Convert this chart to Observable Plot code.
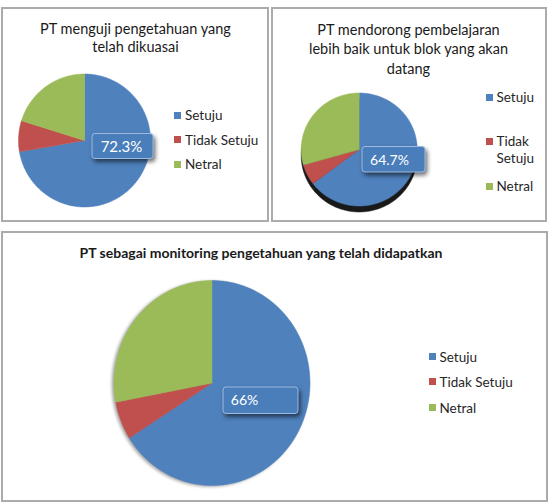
<!DOCTYPE html>
<html><head><meta charset="utf-8">
<script src="https://cdn.jsdelivr.net/npm/d3@7"></script>
<script src="https://cdn.jsdelivr.net/npm/@observablehq/plot@0.6"></script>
<style>
body{margin:0;background:#fff;}
#page{position:relative;width:550px;height:503px;overflow:hidden;font-family:Lato,"Open Sans",sans-serif;}
.box{position:absolute;box-sizing:border-box;border:2px solid #ababab;}
.title{position:absolute;text-align:center;white-space:pre-line;color:#1a1a1a;}
.leg{position:absolute;font-size:13.5px;color:#262626;display:flex;align-items:flex-start;}
.sw{width:7px;height:7px;margin-right:4px;flex:none;}
.plot{position:absolute;}
</style></head><body><div id="page"></div>
<script>
const categories = ["Setuju", "Tidak Setuju", "Netral"];
const colors = ["#4F81BD", "#C0504D", "#9BBB59"];
const titles = [
  "PT menguji pengetahuan yang\ntelah dikuasai",
  "PT mendorong pembelajaran\nlebih baik untuk blok yang akan\ndatang",
  "PT sebagai monitoring pengetahuan yang telah didapatkan"
];
const valuesChart1 = [72.3, 7.5, 20.2];
const valuesChart2 = [64.7, 5.9, 29.4];
const valuesChart3 = [66, 6, 28];
const dataLabels = ["72.3%", "64.7%", "66%"];

const allValues = [valuesChart1, valuesChart2, valuesChart3];

// layout only (page coordinates)
const layouts = [
  {box:[1,7,268,215], cx:84, cy:140, rx:66, ry:66.5,
   title:{cx:135.5, top:20, lh:18, size:14.5, bold:false, w:260},
   label:{x1:92, x2:153, y1:133.5, y2:158.5, tx:121, ty:147, size:15},
   legend:{x:174, rows:[115,139.5,164], lh:16, textW:90},
   pieFilter:"none"},
  {box:[271,7,276,215], cx:358.7, cy:149, rx:58, ry:56.5,
   title:{cx:408.5, top:19.5, lh:19.5, size:14.5, bold:false, w:270},
   label:{x1:362, x2:425, y1:146.5, y2:172, tx:389, ty:160, size:14},
   legend:{x:485.5, rows:[97.3,141.7,186.7], lh:17.6, textW:48},
   pieFilter:"drop-shadow(0px 6px 0.6px rgba(0,0,0,0.9))"},
  {box:[1,231,547,271], cx:211.5, cy:382.5, rx:98, ry:102.5,
   title:{cx:261, top:244, lh:18, size:14, bold:true, w:500},
   label:{x1:223, x2:298, y1:387, y2:413.5, tx:244, ty:400, size:14},
   legend:{x:428.5, rows:[356.7,381.7,407.7], lh:16, textW:100},
   pieFilter:"drop-shadow(-2px 1px 1.5px rgba(0,0,0,0.35))"}
];

const page = document.getElementById("page");

function slicePoints(values, L) {
  const arcs = d3.pie().sort(null).value(d => d)(values);
  const pts = [];
  arcs.forEach((a, i) => {
    const cat = categories[i];
    pts.push({cat, x: L.cx, y: L.cy});
    const n = Math.max(2, Math.ceil((a.endAngle - a.startAngle) / (Math.PI / 180)));
    for (let k = 0; k <= n; k++) {
      const t = a.startAngle + (a.endAngle - a.startAngle) * k / n;
      pts.push({cat, x: L.cx + L.rx * Math.sin(t), y: L.cy - L.ry * Math.cos(t)});
    }
    pts.push({cat, x: L.cx, y: L.cy});
  });
  return pts;
}

layouts.forEach((L, idx) => {
  const [bx, by, bw, bh] = L.box;
  const box = document.createElement("div");
  box.className = "box";
  Object.assign(box.style, {left: bx + "px", top: by + "px", width: bw + "px", height: bh + "px"});
  page.appendChild(box);

  const pts = slicePoints(allValues[idx], L);
  const lab = [{...L.label, text: dataLabels[idx]}];
  const svg = Plot.plot({
    width: bw, height: bh, margin: 0,
    x: {domain: [bx, bx + bw], range: [0, bw], axis: null},
    y: {domain: [by, by + bh], range: [0, bh], axis: null},
    color: {domain: categories, range: colors},
    style: {background: "transparent", overflow: "visible"},
    marks: [
      Plot.line(pts, {x: "x", y: "y", z: "cat", fill: "cat", stroke: "cat", strokeWidth: 0.5}),
      Plot.rect(lab, {x1: "x1", x2: "x2", y1: "y1", y2: "y2", rx: 3, fill: "#4A7EBB", stroke: "#9bbbe0", strokeWidth: 1}),
      Plot.text(lab, {x: "tx", y: "ty", text: "text", fill: "white", fontSize: L.label.size, fontFamily: "Lato, 'Open Sans', sans-serif"})
    ]
  });
  svg.classList.add("plot");
  svg.style.left = bx + "px";
  svg.style.top = by + "px";
  const lineG = svg.querySelector('g[aria-label="line"]');
  if (lineG) lineG.style.filter = L.pieFilter;
  const rectG = svg.querySelector('g[aria-label="rect"]');
  if (rectG) rectG.style.filter = "drop-shadow(2px 3px 2px rgba(0,0,0,0.55))";
  page.appendChild(svg);

  const t = document.createElement("div");
  t.className = "title";
  t.textContent = titles[idx];
  Object.assign(t.style, {left: (L.title.cx - L.title.w / 2) + "px", width: L.title.w + "px", top: L.title.top + "px",
    lineHeight: L.title.lh + "px", fontSize: L.title.size + "px", fontWeight: L.title.bold ? "bold" : "normal"});
  page.appendChild(t);

  categories.forEach((c, i) => {
    const row = document.createElement("div");
    row.className = "leg";
    Object.assign(row.style, {left: L.legend.x + "px", top: (L.legend.rows[i] - L.legend.lh / 2) + "px", lineHeight: L.legend.lh + "px"});
    const sw = document.createElement("div");
    sw.className = "sw";
    sw.style.background = colors[i];
    sw.style.marginTop = ((L.legend.lh - 7) / 2) + "px";
    const tx = document.createElement("span");
    tx.textContent = c;
    tx.style.width = L.legend.textW + "px";
    row.appendChild(sw);
    row.appendChild(tx);
    page.appendChild(row);
  });
});
</script></body></html>
